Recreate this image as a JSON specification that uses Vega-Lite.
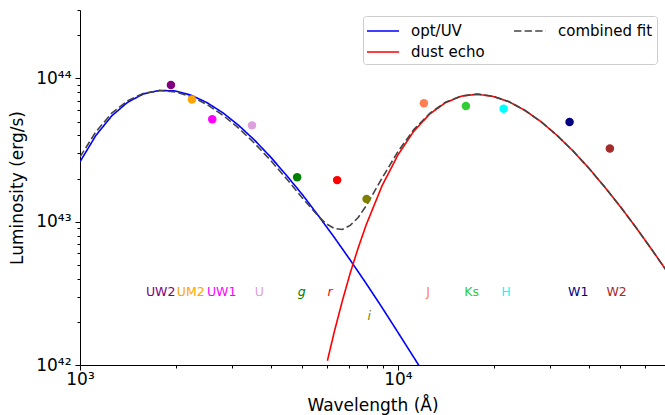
{
  "$schema": "https://vega.github.io/schema/vega-lite/v6.json",
  "width": 585,
  "height": 355,
  "autosize": {"type": "none"},
  "padding": {"left": 80, "top": 10, "right": 0, "bottom": 50},
  "background": "white",
  "config": {
    "font": "DejaVu Sans",
    "view": {"stroke": null},
    "axis": {"grid": false, "domainColor": "black", "tickColor": "black", "labelColor": "black", "titleColor": "black", "titleFontWeight": "normal", "labelFont": "DejaVu Sans", "titleFont": "DejaVu Sans", "domainWidth": 1, "tickWidth": 1}
  },
  "datasets": {
    "curves": [
      {"s": "opt/UV", "lam": 1000, "L": 2.62e43},
      {"s": "opt/UV", "lam": 1122, "L": 4.00e43},
      {"s": "opt/UV", "lam": 1259, "L": 5.48e43},
      {"s": "opt/UV", "lam": 1413, "L": 6.82e43},
      {"s": "opt/UV", "lam": 1585, "L": 7.80e43},
      {"s": "opt/UV", "lam": 1778, "L": 8.24e43},
      {"s": "opt/UV", "lam": 1995, "L": 8.17e43},
      {"s": "opt/UV", "lam": 2239, "L": 7.62e43},
      {"s": "opt/UV", "lam": 2512, "L": 6.76e43},
      {"s": "opt/UV", "lam": 2818, "L": 5.74e43},
      {"s": "opt/UV", "lam": 3162, "L": 4.68e43},
      {"s": "opt/UV", "lam": 3548, "L": 3.69e43},
      {"s": "opt/UV", "lam": 3981, "L": 2.82e43},
      {"s": "opt/UV", "lam": 4467, "L": 2.10e43},
      {"s": "opt/UV", "lam": 5012, "L": 1.54e43},
      {"s": "opt/UV", "lam": 5623, "L": 1.10e43},
      {"s": "opt/UV", "lam": 6310, "L": 7.76e42},
      {"s": "opt/UV", "lam": 7079, "L": 5.40e42},
      {"s": "opt/UV", "lam": 7943, "L": 3.71e42},
      {"s": "opt/UV", "lam": 8913, "L": 2.52e42},
      {"s": "opt/UV", "lam": 10000, "L": 1.69e42},
      {"s": "opt/UV", "lam": 11220, "L": 1.13e42},
      {"s": "opt/UV", "lam": 12589, "L": 7.52e41},
      {"s": "dust echo", "lam": 6000, "L": 1.07e42},
      {"s": "dust echo", "lam": 6310, "L": 1.71e42},
      {"s": "dust echo", "lam": 6683, "L": 2.79e42},
      {"s": "dust echo", "lam": 7079, "L": 4.38e42},
      {"s": "dust echo", "lam": 7499, "L": 6.56e42},
      {"s": "dust echo", "lam": 7943, "L": 9.48e42},
      {"s": "dust echo", "lam": 8913, "L": 1.78e43},
      {"s": "dust echo", "lam": 10000, "L": 2.92e43},
      {"s": "dust echo", "lam": 11220, "L": 4.28e43},
      {"s": "dust echo", "lam": 12589, "L": 5.64e43},
      {"s": "dust echo", "lam": 14125, "L": 6.78e43},
      {"s": "dust echo", "lam": 15849, "L": 7.52e43},
      {"s": "dust echo", "lam": 17783, "L": 7.75e43},
      {"s": "dust echo", "lam": 19953, "L": 7.48e43},
      {"s": "dust echo", "lam": 22387, "L": 6.86e43},
      {"s": "dust echo", "lam": 25119, "L": 5.97e43},
      {"s": "dust echo", "lam": 28184, "L": 4.99e43},
      {"s": "dust echo", "lam": 31623, "L": 4.01e43},
      {"s": "dust echo", "lam": 35481, "L": 3.13e43},
      {"s": "dust echo", "lam": 39811, "L": 2.37e43},
      {"s": "dust echo", "lam": 44668, "L": 1.75e43},
      {"s": "dust echo", "lam": 50119, "L": 1.27e43},
      {"s": "dust echo", "lam": 56234, "L": 9.04e42},
      {"s": "dust echo", "lam": 63096, "L": 6.32e42},
      {"s": "dust echo", "lam": 70795, "L": 4.38e42},
      {"s": "combined fit", "lam": 1000, "L": 2.83e43},
      {"s": "combined fit", "lam": 1122, "L": 4.24e43},
      {"s": "combined fit", "lam": 1259, "L": 5.72e43},
      {"s": "combined fit", "lam": 1413, "L": 7.00e43},
      {"s": "combined fit", "lam": 1585, "L": 7.87e43},
      {"s": "combined fit", "lam": 1778, "L": 8.22e43},
      {"s": "combined fit", "lam": 1995, "L": 8.05e43},
      {"s": "combined fit", "lam": 2239, "L": 7.45e43},
      {"s": "combined fit", "lam": 2512, "L": 6.56e43},
      {"s": "combined fit", "lam": 2818, "L": 5.52e43},
      {"s": "combined fit", "lam": 3162, "L": 4.48e43},
      {"s": "combined fit", "lam": 3548, "L": 3.51e43},
      {"s": "combined fit", "lam": 3981, "L": 2.67e43},
      {"s": "combined fit", "lam": 4467, "L": 1.99e43},
      {"s": "combined fit", "lam": 5012, "L": 1.46e43},
      {"s": "combined fit", "lam": 5623, "L": 1.09e43},
      {"s": "combined fit", "lam": 5957, "L": 9.66e42},
      {"s": "combined fit", "lam": 6310, "L": 8.97e42},
      {"s": "combined fit", "lam": 6683, "L": 8.83e42},
      {"s": "combined fit", "lam": 7079, "L": 9.42e42},
      {"s": "combined fit", "lam": 7499, "L": 1.07e43},
      {"s": "combined fit", "lam": 7943, "L": 1.29e43},
      {"s": "combined fit", "lam": 8913, "L": 2.01e43},
      {"s": "combined fit", "lam": 10000, "L": 3.08e43},
      {"s": "combined fit", "lam": 11220, "L": 4.39e43},
      {"s": "combined fit", "lam": 12589, "L": 5.70e43},
      {"s": "combined fit", "lam": 14125, "L": 6.82e43},
      {"s": "combined fit", "lam": 15849, "L": 7.55e43},
      {"s": "combined fit", "lam": 17783, "L": 7.76e43},
      {"s": "combined fit", "lam": 19953, "L": 7.50e43},
      {"s": "combined fit", "lam": 22387, "L": 6.87e43},
      {"s": "combined fit", "lam": 25119, "L": 5.97e43},
      {"s": "combined fit", "lam": 28184, "L": 4.99e43},
      {"s": "combined fit", "lam": 31623, "L": 4.01e43},
      {"s": "combined fit", "lam": 35481, "L": 3.13e43},
      {"s": "combined fit", "lam": 39811, "L": 2.37e43},
      {"s": "combined fit", "lam": 44668, "L": 1.75e43},
      {"s": "combined fit", "lam": 50119, "L": 1.27e43},
      {"s": "combined fit", "lam": 56234, "L": 9.04e42},
      {"s": "combined fit", "lam": 63096, "L": 6.32e42},
      {"s": "combined fit", "lam": 70795, "L": 4.38e42}
    ],
    "points": [
      {"band": "UW2", "lam": 1932, "L": 8.98e43, "c": "#800080"},
      {"band": "UM2", "lam": 2249, "L": 7.11e43, "c": "#FFA500"},
      {"band": "UW1", "lam": 2606, "L": 5.18e43, "c": "#FF00FF"},
      {"band": "U", "lam": 3475, "L": 4.70e43, "c": "#DDA0DD"},
      {"band": "g", "lam": 4820, "L": 2.04e43, "c": "#008000"},
      {"band": "r", "lam": 6440, "L": 1.95e43, "c": "#FF0000"},
      {"band": "i", "lam": 7970, "L": 1.44e43, "c": "#808000"},
      {"band": "J", "lam": 12070, "L": 6.70e43, "c": "#FF7F50"},
      {"band": "Ks", "lam": 16360, "L": 6.41e43, "c": "#32CD32"},
      {"band": "H", "lam": 21500, "L": 6.15e43, "c": "#00FFFF"},
      {"band": "W1", "lam": 34670, "L": 4.96e43, "c": "#000080"},
      {"band": "W2", "lam": 46420, "L": 3.24e43, "c": "#A52A2A"}
    ],
    "labels": [
      {"band": "UW2", "lam": 1794, "L": 3.24e42, "c": "#800080", "it": false},
      {"band": "UM2", "lam": 2229, "L": 3.24e42, "c": "#FFA500", "it": false},
      {"band": "UW1", "lam": 2790, "L": 3.24e42, "c": "#FF00FF", "it": false},
      {"band": "U", "lam": 3664, "L": 3.24e42, "c": "#DDA0DD", "it": false},
      {"band": "g", "lam": 4980, "L": 3.24e42, "c": "#008000", "it": true},
      {"band": "r", "lam": 6113, "L": 3.24e42, "c": "#FF0000", "it": true},
      {"band": "i", "lam": 8122, "L": 2.21e42, "c": "#808000", "it": true},
      {"band": "J", "lam": 12453, "L": 3.24e42, "c": "#FF7F50", "it": false},
      {"band": "Ks", "lam": 17055, "L": 3.24e42, "c": "#32CD32", "it": false},
      {"band": "H", "lam": 21860, "L": 3.24e42, "c": "#00FFFF", "it": false},
      {"band": "W1", "lam": 36900, "L": 3.24e42, "c": "#000080", "it": false},
      {"band": "W2", "lam": 48730, "L": 3.24e42, "c": "#A52A2A", "it": false}
    ]
  },
  "encoding": {
    "x": {
      "field": "lam", "type": "quantitative",
      "scale": {"type": "log", "domain": [1000, 69200], "nice": false},
      "axis": {
        "title": "Wavelength (Å)", "titleFontSize": 17, "labelFontSize": 17, "labelPadding": 1, "titlePadding": 10,
        "values": [1000, 2000, 3000, 4000, 5000, 6000, 7000, 8000, 9000, 10000, 20000, 30000, 40000, 50000, 60000],
        "labelExpr": "datum.value == 1000 ? '10³' : datum.value == 10000 ? '10⁴' : ''",
        "labelFlush": false, "labelOverlap": false,
        "tickSize": {"condition": {"test": "datum.value == 1000 || datum.value == 10000", "value": 5}, "value": 3}
      }
    },
    "y": {
      "field": "L", "type": "quantitative",
      "scale": {"type": "log", "domain": [1e42, 3e44], "nice": false},
      "axis": {
        "title": "Luminosity (erg/s)", "titleFontSize": 17, "labelFontSize": 17, "labelPadding": 4, "titlePadding": 9,
        "values": [1e42, 2e42, 3e42, 4e42, 5e42, 6e42, 7e42, 8e42, 9e42, 1e43, 2e43, 3e43, 4e43, 5e43, 6e43, 7e43, 8e43, 9e43, 1e44, 2e44, 3e44],
        "labelExpr": "datum.value == 1e42 ? '10⁴²' : datum.value == 1e43 ? '10⁴³' : datum.value == 1e44 ? '10⁴⁴' : ''",
        "labelFlush": false, "labelOverlap": false,
        "tickSize": {"condition": {"test": "datum.value == 1e42 || datum.value == 1e43 || datum.value == 1e44", "value": 5}, "value": 3}
      }
    }
  },
  "layer": [
    {
      "data": {"name": "curves"},
      "mark": {"type": "line", "clip": true},
      "encoding": {
        "color": {
          "field": "s", "type": "nominal",
          "scale": {"domain": ["opt/UV", "dust echo", "combined fit"], "range": ["#0000FF", "#FF0000", "#444444"]},
          "legend": {
            "title": null, "orient": "none", "legendX": 283, "legendY": 6, "columns": 2,
            "labelFontSize": 15, "labelFont": "DejaVu Sans", "labelColor": "black",
            "symbolType": "M-1.1,0H2.1", "symbolSize": 400, "symbolStrokeWidth": 1.8,
            "labelOffset": 22, "columnPadding": 25, "rowPadding": 2, "padding": 4,
            "fillColor": "white", "strokeColor": "#cccccc", "cornerRadius": 3
          }
        },
        "strokeDash": {
          "field": "s", "type": "nominal",
          "scale": {"domain": ["opt/UV", "dust echo", "combined fit"], "range": [[1, 0], [1, 0], [7.4, 3.2]]},
          "legend": {
            "title": null, "orient": "none", "legendX": 283, "legendY": 6, "columns": 2,
            "labelFontSize": 15, "labelFont": "DejaVu Sans", "labelColor": "black",
            "symbolType": "M-1.1,0H2.1", "symbolSize": 400, "symbolStrokeWidth": 1.8,
            "labelOffset": 22, "columnPadding": 25, "rowPadding": 2, "padding": 4,
            "fillColor": "white", "strokeColor": "#cccccc", "cornerRadius": 3
          }
        },
        "strokeWidth": {
          "field": "s", "type": "nominal",
          "scale": {"domain": ["opt/UV", "dust echo", "combined fit"], "range": [1.6, 1.6, 2.5]},
          "legend": null
        }
      }
    },
    {
      "data": {"name": "points"},
      "mark": {"type": "circle", "size": 72, "opacity": 1},
      "encoding": {
        "fill": {"field": "c", "type": "nominal", "scale": null}
      }
    },
    {
      "data": {"name": "labels"},
      "transform": [{"filter": "!datum.it"}],
      "mark": {"type": "text", "fontSize": 12.5, "font": "DejaVu Sans", "align": "center", "baseline": "middle"},
      "encoding": {
        "text": {"field": "band"},
        "fill": {"field": "c", "type": "nominal", "scale": null}
      }
    },
    {
      "data": {"name": "labels"},
      "transform": [{"filter": "datum.it"}],
      "mark": {"type": "text", "fontSize": 12.5, "font": "DejaVu Sans", "fontStyle": "italic", "align": "center", "baseline": "middle"},
      "encoding": {
        "text": {"field": "band"},
        "fill": {"field": "c", "type": "nominal", "scale": null}
      }
    },
    {
      "mark": {"type": "rule", "color": "black", "strokeWidth": 1},
      "encoding": {"y": {"datum": 3e44, "type": "quantitative"}}
    }
  ]
}
